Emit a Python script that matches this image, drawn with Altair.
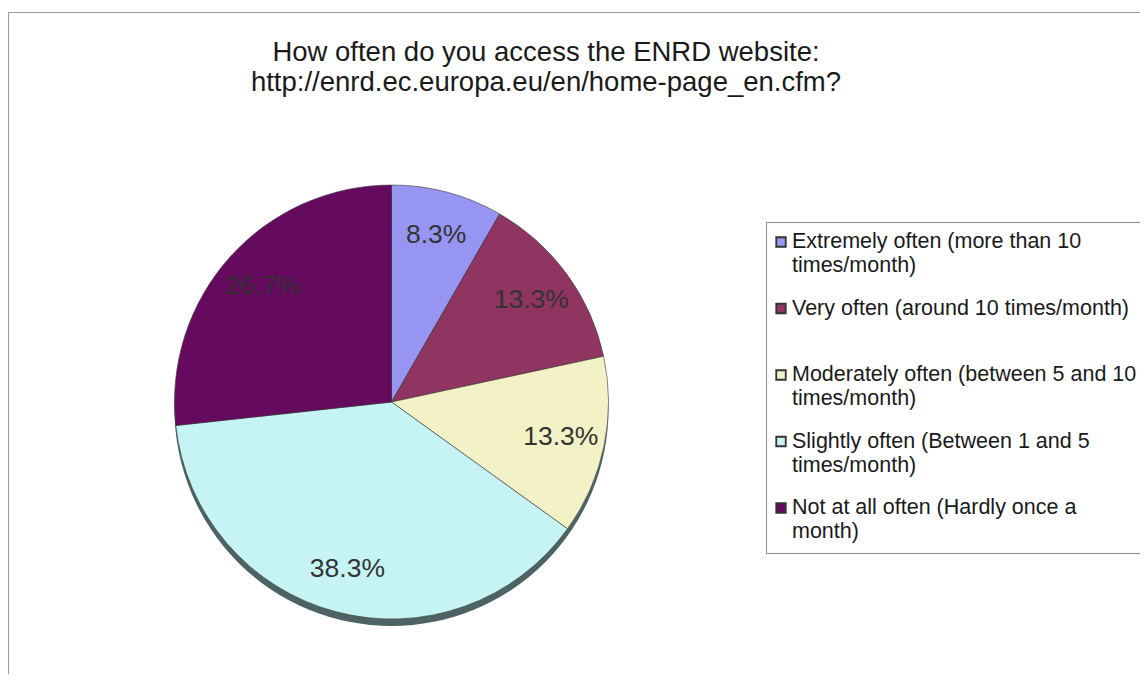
import altair as alt
import pandas as pd

TITLE = ["How often do you access the ENRD website:",
         "http://enrd.ec.europa.eu/en/home-page_en.cfm?"]
CATEGORIES = [
    "Extremely often (more than 10 times/month)",
    "Very often (around 10 times/month)",
    "Moderately often (between 5 and 10 times/month)",
    "Slightly often (Between 1 and 5 times/month)",
    "Not at all often (Hardly once a month)",
]
LEGEND_LINE1 = [
    "Extremely often (more than 10",
    "Very often (around 10 times/month)",
    "Moderately often (between 5 and 10",
    "Slightly often (Between 1 and 5",
    "Not at all often (Hardly once a",
]
LEGEND_LINE2 = ["times/month)", "", "times/month)", "times/month)", "month)"]
PERCENTS = [8.3, 13.3, 13.3, 38.3, 26.7]
LABELS = ["8.3%", "13.3%", "13.3%", "38.3%", "26.7%"]
COLORS = ["#9696F2", "#903461", "#F3F2C6", "#C6F4F4", "#660A60"]

FONT = "Liberation Sans"
CX, CY, R = 383.5, 394, 217

df = pd.DataFrame({
    "cat": CATEGORIES,
    "order": list(range(len(CATEGORIES))),
    "pct": PERCENTS,
    "label": LABELS,
    "l1": LEGEND_LINE1,
    "l2": LEGEND_LINE2,
})
one = pd.DataFrame({"k": [0]})

color = alt.Color("cat:N", scale=alt.Scale(domain=CATEGORIES, range=COLORS), legend=None)
theta = alt.Theta("pct:Q", stack=True)
order = alt.Order("order:Q")

def hrule(x1, x2, y, c="#9a9a9a"):
    return alt.Chart(one).mark_rule(color=c, strokeWidth=1).encode(
        x=alt.value(x1), x2=alt.value(x2), y=alt.value(y))

def vrule(x, y1, y2, c="#9a9a9a"):
    return alt.Chart(one).mark_rule(color=c, strokeWidth=1).encode(
        x=alt.value(x), y=alt.value(y1), y2=alt.value(y2))

border_left = vrule(0.5, 4.5, 700)
border_top = hrule(0, 1160, 4.5)

title = alt.Chart(one).mark_text(
    text=TITLE, fontSize=27.5, lineHeight=30, align="center", baseline="middle",
    color="#1a1a1a", font=FONT).encode(x=alt.value(538), y=alt.value(45))

shadow = alt.Chart(one).mark_arc(
    outerRadius=R, theta=0, theta2=6.2832, color="#4d6363").encode(
    x=alt.value(CX), y=alt.value(CY + 7))

pie = alt.Chart(df).mark_arc(outerRadius=R, stroke="#3a3a3a", strokeWidth=0.6).encode(
    theta=theta, color=color, order=order, x=alt.value(CX), y=alt.value(CY))

labels = alt.Chart(df).mark_text(
    radius=173, fontSize=26.5, color="#333333", font=FONT).encode(
    theta=theta, detail="cat:N", order=order, text="label:N",
    x=alt.value(CX), y=alt.value(CY))

leg_top = hrule(758, 1160, 214.5, "#8c8c8c")
leg_bottom = hrule(758, 1160, 545.5, "#8c8c8c")
leg_left = vrule(758.5, 214, 546, "#8c8c8c")

ly = alt.Y("cat:N", sort=CATEGORIES, axis=None,
           scale=alt.Scale(type="point", domain=CATEGORIES, range=[234, 500], padding=0))

leg_sym = alt.Chart(df).mark_square(size=90, stroke="#333333", strokeWidth=1.8, opacity=1).encode(
    x=alt.value(773), y=ly, color=color)
leg_t1 = alt.Chart(df).mark_text(
    align="left", baseline="middle", fontSize=21.5, color="#1a1a1a", font=FONT).encode(
    x=alt.value(784), y=ly, text="l1:N")
leg_t2 = alt.Chart(df).mark_text(
    align="left", baseline="middle", fontSize=21.5, color="#1a1a1a", font=FONT, dy=24).encode(
    x=alt.value(784), y=ly, text="l2:N")

chart = alt.layer(
    border_left, border_top, title, shadow, pie, labels,
    leg_top, leg_bottom, leg_left, leg_sym, leg_t1, leg_t2
).properties(
    width=1132, height=666, autosize="none", padding=0
).configure_view(stroke=None)

chart.save("out.html", embed_options={"renderer": "svg", "actions": False})
